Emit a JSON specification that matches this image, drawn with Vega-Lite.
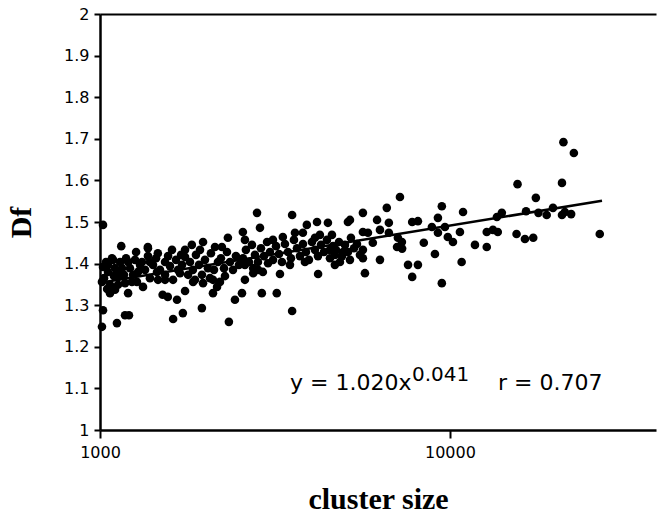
{
  "$schema": "https://vega.github.io/schema/vega-lite/v6.json",
  "width": 556,
  "height": 416,
  "autosize": {"type": "none"},
  "padding": {"left": 100, "top": 14, "right": 1, "bottom": 83},
  "background": "white",
  "config": {
    "view": {"stroke": null},
    "axis": {
      "grid": false,
      "domainColor": "black",
      "tickColor": "black",
      "labelColor": "black",
      "labelFont": "DejaVu Sans",
      "labelFontSize": 16,
      "titleFont": "Liberation Serif",
      "titleFontWeight": "bold",
      "titleFontSize": 30,
      "titleColor": "black",
      "domainWidth": 2.5,
      "tickWidth": 2
    }
  },
  "datasets": {
    "points": [
      {"cluster": 1020, "Df": 1.493}, {"cluster": 1150, "Df": 1.442}, {"cluster": 1370, "Df": 1.440}, {"cluster": 1463, "Df": 1.425},
      {"cluster": 1830, "Df": 1.445}, {"cluster": 1970, "Df": 1.452}, {"cluster": 2320, "Df": 1.462}, {"cluster": 2230, "Df": 1.440},
      {"cluster": 1020, "Df": 1.288}, {"cluster": 1013, "Df": 1.248}, {"cluster": 1118, "Df": 1.257}, {"cluster": 1179, "Df": 1.276},
      {"cluster": 1210, "Df": 1.276}, {"cluster": 1618, "Df": 1.267}, {"cluster": 1725, "Df": 1.281}, {"cluster": 1955, "Df": 1.293},
      {"cluster": 2335, "Df": 1.260}, {"cluster": 3540, "Df": 1.286}, {"cluster": 1068, "Df": 1.329}, {"cluster": 1203, "Df": 1.329},
      {"cluster": 1510, "Df": 1.325}, {"cluster": 1562, "Df": 1.320}, {"cluster": 1660, "Df": 1.313}, {"cluster": 1750, "Df": 1.334},
      {"cluster": 2103, "Df": 1.329}, {"cluster": 2160, "Df": 1.344}, {"cluster": 2202, "Df": 1.356}, {"cluster": 2430, "Df": 1.313},
      {"cluster": 2545, "Df": 1.329}, {"cluster": 2900, "Df": 1.329}, {"cluster": 3200, "Df": 1.329}, {"cluster": 2595, "Df": 1.361},
      {"cluster": 2740, "Df": 1.377}, {"cluster": 2830, "Df": 1.385}, {"cluster": 3268, "Df": 1.375}, {"cluster": 4200, "Df": 1.375},
      {"cluster": 1455, "Df": 1.380}, {"cluster": 1534, "Df": 1.361}, {"cluster": 1845, "Df": 1.356}, {"cluster": 1970, "Df": 1.353},
      {"cluster": 2103, "Df": 1.361}, {"cluster": 1693, "Df": 1.377}, {"cluster": 1020, "Df": 1.392}, {"cluster": 1048, "Df": 1.339},
      {"cluster": 1104, "Df": 1.337}, {"cluster": 1126, "Df": 1.368}, {"cluster": 1275, "Df": 1.356}, {"cluster": 1327, "Df": 1.344},
      {"cluster": 2810, "Df": 1.522}, {"cluster": 3540, "Df": 1.517}, {"cluster": 2865, "Df": 1.486}, {"cluster": 2560, "Df": 1.476},
      {"cluster": 2595, "Df": 1.457}, {"cluster": 3900, "Df": 1.493}, {"cluster": 4170, "Df": 1.500}, {"cluster": 4480, "Df": 1.498},
      {"cluster": 5110, "Df": 1.500}, {"cluster": 5640, "Df": 1.522}, {"cluster": 5640, "Df": 1.476}, {"cluster": 3120, "Df": 1.457},
      {"cluster": 3330, "Df": 1.464}, {"cluster": 3800, "Df": 1.474}, {"cluster": 4250, "Df": 1.469}, {"cluster": 4600, "Df": 1.469},
      {"cluster": 2740, "Df": 1.389}, {"cluster": 2920, "Df": 1.380}, {"cluster": 4690, "Df": 1.397}, {"cluster": 5716, "Df": 1.377},
      {"cluster": 4541, "Df": 1.433}, {"cluster": 5640, "Df": 1.433}, {"cluster": 5640, "Df": 1.413}, {"cluster": 7197, "Df": 1.560},
      {"cluster": 6600, "Df": 1.534}, {"cluster": 9480, "Df": 1.538}, {"cluster": 10900, "Df": 1.524}, {"cluster": 6190, "Df": 1.505},
      {"cluster": 6690, "Df": 1.498}, {"cluster": 7800, "Df": 1.500}, {"cluster": 8100, "Df": 1.502}, {"cluster": 9240, "Df": 1.510},
      {"cluster": 9676, "Df": 1.488}, {"cluster": 8880, "Df": 1.488}, {"cluster": 6310, "Df": 1.481}, {"cluster": 6690, "Df": 1.474},
      {"cluster": 5830, "Df": 1.474}, {"cluster": 10680, "Df": 1.476}, {"cluster": 9240, "Df": 1.474}, {"cluster": 9860, "Df": 1.464},
      {"cluster": 10200, "Df": 1.452}, {"cluster": 7100, "Df": 1.462}, {"cluster": 7290, "Df": 1.452}, {"cluster": 7060, "Df": 1.440},
      {"cluster": 7300, "Df": 1.436}, {"cluster": 6020, "Df": 1.450}, {"cluster": 8420, "Df": 1.450}, {"cluster": 9060, "Df": 1.423},
      {"cluster": 11790, "Df": 1.445}, {"cluster": 12740, "Df": 1.440}, {"cluster": 12740, "Df": 1.476}, {"cluster": 13270, "Df": 1.481},
      {"cluster": 13700, "Df": 1.476}, {"cluster": 14070, "Df": 1.522}, {"cluster": 6310, "Df": 1.409}, {"cluster": 7590, "Df": 1.397},
      {"cluster": 8100, "Df": 1.397}, {"cluster": 10800, "Df": 1.404}, {"cluster": 7800, "Df": 1.368}, {"cluster": 9480, "Df": 1.353},
      {"cluster": 4690, "Df": 1.421}, {"cluster": 4950, "Df": 1.428}, {"cluster": 21100, "Df": 1.692}, {"cluster": 22600, "Df": 1.666},
      {"cluster": 15600, "Df": 1.591}, {"cluster": 20900, "Df": 1.594}, {"cluster": 17600, "Df": 1.558}, {"cluster": 16500, "Df": 1.526},
      {"cluster": 17900, "Df": 1.522}, {"cluster": 18900, "Df": 1.517}, {"cluster": 19700, "Df": 1.534}, {"cluster": 20900, "Df": 1.517},
      {"cluster": 21300, "Df": 1.524}, {"cluster": 22200, "Df": 1.519}, {"cluster": 13620, "Df": 1.512}, {"cluster": 15500, "Df": 1.471},
      {"cluster": 16380, "Df": 1.459}, {"cluster": 17300, "Df": 1.462}, {"cluster": 26800, "Df": 1.471}, {"cluster": 5180, "Df": 1.505},
      {"cluster": 1013, "Df": 1.356}, {"cluster": 1040, "Df": 1.404}, {"cluster": 1054, "Df": 1.380}, {"cluster": 1082, "Df": 1.413},
      {"cluster": 1104, "Df": 1.389}, {"cluster": 1126, "Df": 1.349}, {"cluster": 1141, "Df": 1.404}, {"cluster": 1171, "Df": 1.373},
      {"cluster": 1187, "Df": 1.413}, {"cluster": 1218, "Df": 1.389}, {"cluster": 1234, "Df": 1.356}, {"cluster": 1259, "Df": 1.409},
      {"cluster": 1284, "Df": 1.380}, {"cluster": 1027, "Df": 1.365}, {"cluster": 1068, "Df": 1.349}, {"cluster": 1096, "Df": 1.370},
      {"cluster": 1156, "Df": 1.389}, {"cluster": 1203, "Df": 1.404}, {"cluster": 1243, "Df": 1.373}, {"cluster": 1268, "Df": 1.428},
      {"cluster": 1301, "Df": 1.397}, {"cluster": 1119, "Df": 1.380}, {"cluster": 1179, "Df": 1.353}, {"cluster": 1054, "Df": 1.397},
      {"cluster": 1371, "Df": 1.437}, {"cluster": 1090, "Df": 1.409}, {"cluster": 1534, "Df": 1.404}, {"cluster": 1705, "Df": 1.421},
      {"cluster": 1318, "Df": 1.404}, {"cluster": 1345, "Df": 1.385}, {"cluster": 1371, "Df": 1.418}, {"cluster": 1389, "Df": 1.365},
      {"cluster": 1417, "Df": 1.397}, {"cluster": 1446, "Df": 1.413}, {"cluster": 1484, "Df": 1.385}, {"cluster": 1534, "Df": 1.373},
      {"cluster": 1565, "Df": 1.418}, {"cluster": 1585, "Df": 1.394}, {"cluster": 1617, "Df": 1.361}, {"cluster": 1649, "Df": 1.409},
      {"cluster": 1671, "Df": 1.385}, {"cluster": 1716, "Df": 1.397}, {"cluster": 1750, "Df": 1.416}, {"cluster": 1785, "Df": 1.373},
      {"cluster": 1808, "Df": 1.404}, {"cluster": 1843, "Df": 1.385}, {"cluster": 1880, "Df": 1.421}, {"cluster": 1918, "Df": 1.397},
      {"cluster": 1956, "Df": 1.373}, {"cluster": 1995, "Df": 1.409}, {"cluster": 2035, "Df": 1.389}, {"cluster": 2075, "Df": 1.425},
      {"cluster": 2117, "Df": 1.385}, {"cluster": 2173, "Df": 1.404}, {"cluster": 2216, "Df": 1.413}, {"cluster": 2261, "Df": 1.389},
      {"cluster": 2306, "Df": 1.428}, {"cluster": 2352, "Df": 1.404}, {"cluster": 2399, "Df": 1.385}, {"cluster": 2446, "Df": 1.418},
      {"cluster": 2495, "Df": 1.397}, {"cluster": 1389, "Df": 1.404}, {"cluster": 1465, "Df": 1.361}, {"cluster": 1606, "Df": 1.433},
      {"cluster": 1868, "Df": 1.361}, {"cluster": 2062, "Df": 1.365}, {"cluster": 2276, "Df": 1.370}, {"cluster": 2131, "Df": 1.440},
      {"cluster": 1931, "Df": 1.433}, {"cluster": 1750, "Df": 1.433},
      {"cluster": 2562, "Df": 1.413}, {"cluster": 2612, "Df": 1.433}, {"cluster": 2665, "Df": 1.404}, {"cluster": 2718, "Df": 1.445},
      {"cluster": 2772, "Df": 1.421}, {"cluster": 2827, "Df": 1.404}, {"cluster": 2884, "Df": 1.437}, {"cluster": 2942, "Df": 1.418},
      {"cluster": 3002, "Df": 1.452}, {"cluster": 3060, "Df": 1.428}, {"cluster": 3122, "Df": 1.409}, {"cluster": 3184, "Df": 1.442},
      {"cluster": 3247, "Df": 1.423}, {"cluster": 3311, "Df": 1.404}, {"cluster": 3377, "Df": 1.447}, {"cluster": 3444, "Df": 1.428},
      {"cluster": 3513, "Df": 1.413}, {"cluster": 3583, "Df": 1.457}, {"cluster": 3655, "Df": 1.437}, {"cluster": 3728, "Df": 1.418},
      {"cluster": 3802, "Df": 1.447}, {"cluster": 3877, "Df": 1.428}, {"cluster": 3954, "Df": 1.409}, {"cluster": 4033, "Df": 1.452},
      {"cluster": 4114, "Df": 1.433}, {"cluster": 4196, "Df": 1.418}, {"cluster": 4280, "Df": 1.445}, {"cluster": 4365, "Df": 1.428},
      {"cluster": 4452, "Df": 1.457}, {"cluster": 4541, "Df": 1.413}, {"cluster": 4632, "Df": 1.442}, {"cluster": 4724, "Df": 1.433},
      {"cluster": 4819, "Df": 1.452}, {"cluster": 4915, "Df": 1.418}, {"cluster": 5012, "Df": 1.445}, {"cluster": 5112, "Df": 1.428},
      {"cluster": 5213, "Df": 1.462}, {"cluster": 5318, "Df": 1.437}, {"cluster": 5424, "Df": 1.447}, {"cluster": 5531, "Df": 1.421},
      {"cluster": 2595, "Df": 1.397}, {"cluster": 3021, "Df": 1.401}, {"cluster": 3490, "Df": 1.397}, {"cluster": 3852, "Df": 1.404},
      {"cluster": 5179, "Df": 1.409}, {"cluster": 4849, "Df": 1.404}, {"cluster": 4114, "Df": 1.462}, {"cluster": 3607, "Df": 1.474}
    ],
    "fit": [
      {"cluster": 1000, "Df": 1.354},
      {"cluster": 27200, "Df": 1.551}
    ]
  },
  "layer": [
    {
      "data": {"name": "points"},
      "mark": {"type": "circle", "size": 74, "color": "black", "opacity": 1},
      "encoding": {
        "x": {
          "field": "cluster", "type": "quantitative",
          "scale": {"type": "log", "domain": [1000, 38800], "nice": false},
          "axis": {
            "values": [1000, 10000], "format": "d", "tickSize": 8, "labelPadding": 6,
            "labelFlush": false, "labelOverlap": false,
            "title": "cluster size", "titleX": 278, "titleY": 78, "titleBaseline": "alphabetic"
          }
        },
        "y": {
          "field": "Df", "type": "quantitative",
          "scale": {"domain": [1, 2], "nice": false, "zero": false},
          "axis": {
            "values": [1, 1.1, 1.2, 1.3, 1.4, 1.5, 1.6, 1.7, 1.8, 1.9, 2],
            "format": "~g", "tickSize": 6, "labelPadding": 5, "labelFlush": false,
            "title": "Df", "titleX": -70, "titleY": 208, "titleAngle": -90,
            "titleBaseline": "alphabetic", "titleAlign": "center"
          }
        }
      }
    },
    {
      "data": {"name": "fit"},
      "mark": {"type": "line", "color": "black", "strokeWidth": 2.5},
      "encoding": {
        "x": {
          "field": "cluster", "type": "quantitative",
          "axis": {"orient": "top", "labels": false, "ticks": false, "title": null, "domainWidth": 2}
        },
        "y": {"field": "Df", "type": "quantitative"}
      }
    },
    {
      "data": {"values": [{}]},
      "mark": {"type": "text", "text": "y = 1.020x", "font": "DejaVu Sans", "fontSize": 22, "align": "left", "baseline": "alphabetic", "color": "black"},
      "encoding": {
        "x": {"datum": 3490, "type": "quantitative", "axis": null},
        "y": {"datum": 1.096, "type": "quantitative"}
      }
    },
    {
      "data": {"values": [{}]},
      "mark": {"type": "text", "text": "0.041", "font": "DejaVu Sans", "fontSize": 20, "align": "left", "baseline": "alphabetic", "color": "black"},
      "encoding": {
        "x": {"datum": 7790, "type": "quantitative", "axis": null},
        "y": {"datum": 1.118, "type": "quantitative"}
      }
    },
    {
      "data": {"values": [{}]},
      "mark": {"type": "text", "text": "r = 0.707", "font": "DejaVu Sans", "fontSize": 22, "align": "left", "baseline": "alphabetic", "color": "black"},
      "encoding": {
        "x": {"datum": 13713, "type": "quantitative", "axis": null},
        "y": {"datum": 1.096, "type": "quantitative"}
      }
    }
  ],
  "resolve": {"axis": {"x": "independent"}}
}
